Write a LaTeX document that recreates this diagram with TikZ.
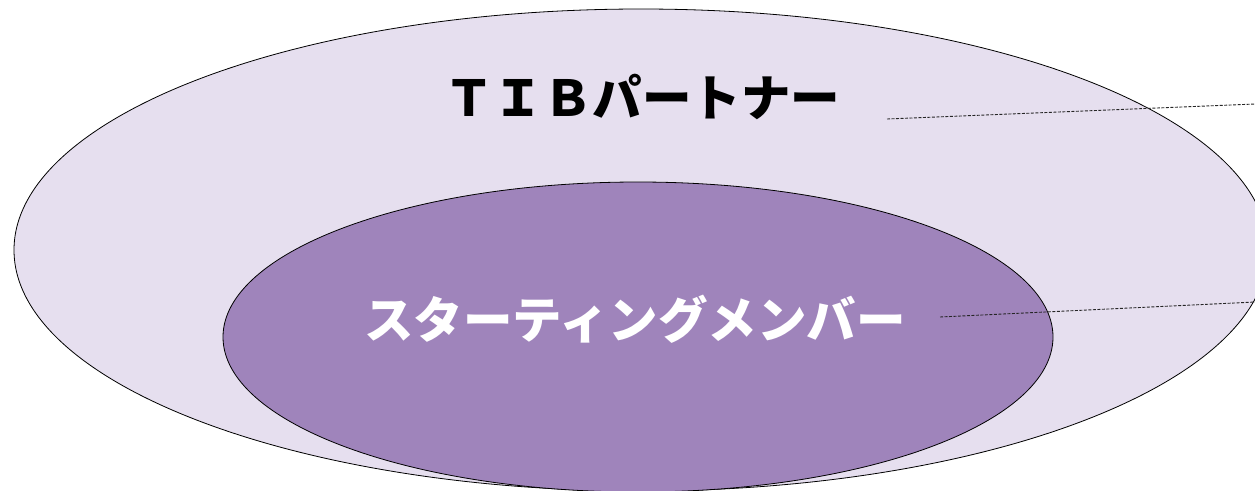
\documentclass[tikz,border=0pt]{standalone}
\usepackage{fontspec}
\newfontfamily\jp{Noto Sans CJK JP}
\definecolor{outerfill}{HTML}{E6DFEF}
\definecolor{innerfill}{HTML}{9F84BB}
\tikzset{
  ring/.style={draw=black, line width=0.8pt},
  leader/.style={draw=black!85, line width=0.9pt, dash pattern=on 3pt off 1.5pt},
  title/.style={font=\jp\bfseries\fontsize{49.5}{54}\selectfont, inner sep=0pt}
}
\begin{document}
\begin{tikzpicture}[x=1pt,y=-1pt]
\useasboundingbox (0,0) rectangle (1255,490);
\clip (0,0) rectangle (1255,490);
\fill[white] (0,0) rectangle (1255,490);
\path[ring, fill=outerfill] (641,250) ellipse [x radius=627, y radius=241];
\path[ring, fill=innerfill] (638,337) ellipse [x radius=415, y radius=155];
\node[title, text=black] (tib) at (642,97) {ＴＩＢパートナー};
\node[title, text=white] (start) at (635,319) {スターティングメンバー};
\coordinate (l1s) at (887,119);
\coordinate (l1e) at (1270,103.4);
\coordinate (l2s) at (940,317);
\coordinate (l2e) at (1270,301.3);
\draw[leader] (l1s) -- (l1e);
\draw[leader] (l2s) -- (l2e);
\end{tikzpicture}
\end{document}
